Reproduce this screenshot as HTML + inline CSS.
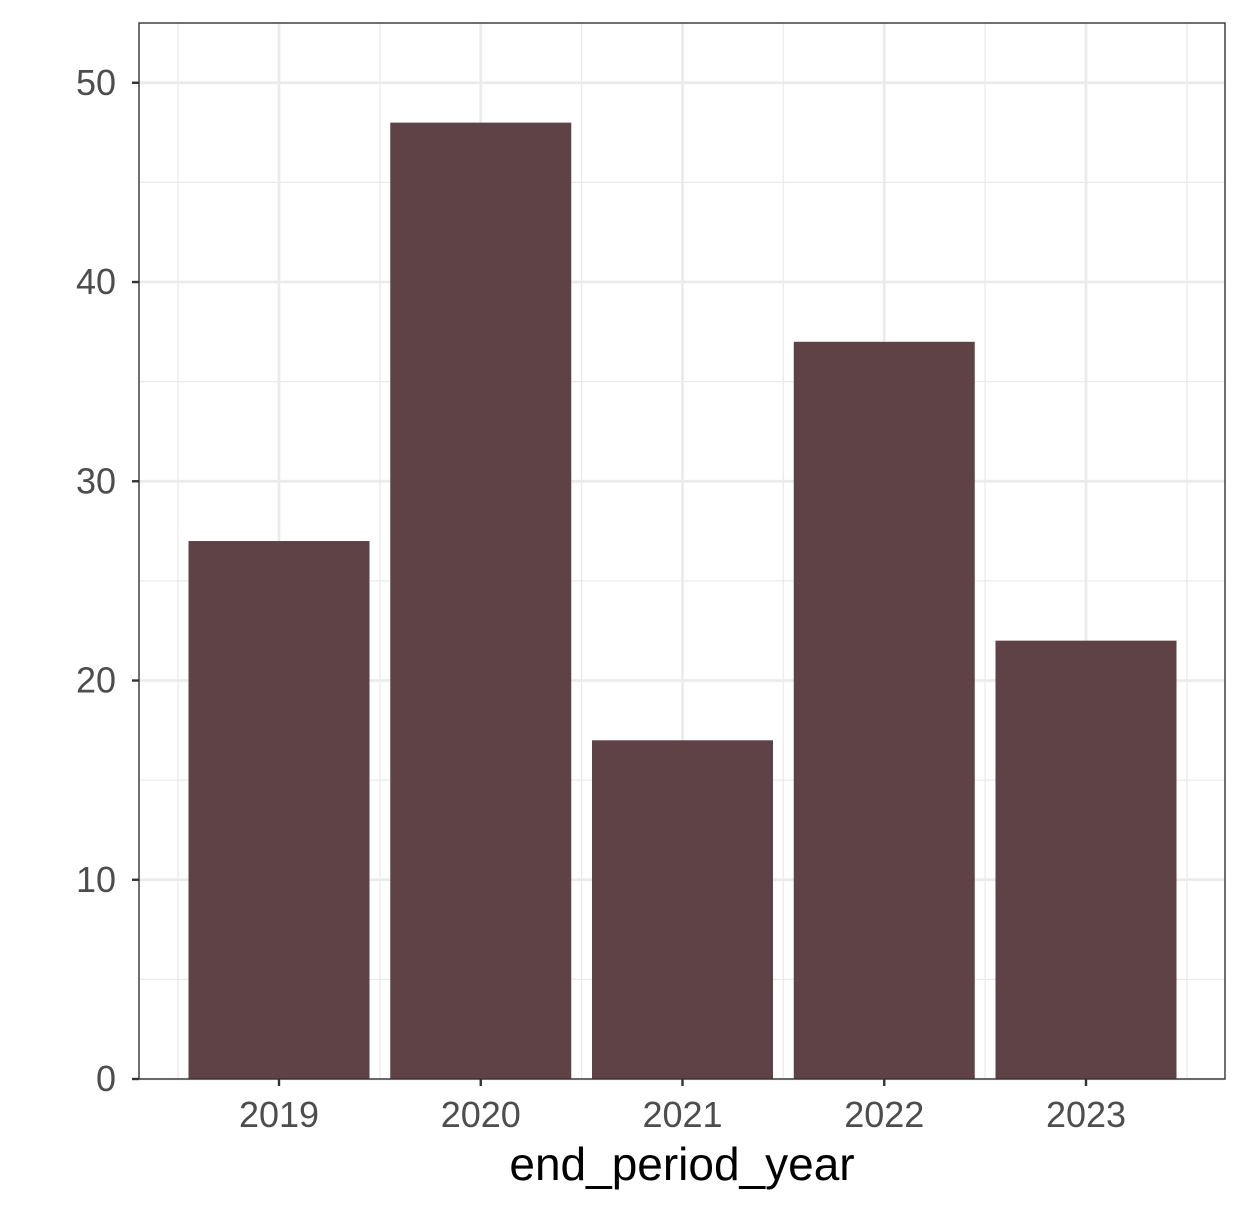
<!DOCTYPE html>
<html><head><meta charset="utf-8"><style>
body{margin:0;background:#fff;}
svg{display:block;font-family:"Liberation Sans",sans-serif;}
</style></head><body>
<svg id="chart" width="1249" height="1212"></svg>
<script>
const categories=["2019","2020","2021","2022","2023"];
const values=[27,48,17,37,22];
const yTicks=[0,10,20,30,40,50];
const yMinor=[5,15,25,35,45];
const svg=document.getElementById('chart');
const NS='http://www.w3.org/2000/svg';
const L=139,R=1225,T=23,B=1079,yMax=53;
const y=v=>B-(v/yMax)*(B-T);
const step=201.75, x0=279;
const x=i=>x0+i*step;
const bw=181;
function mk(tag,attrs,parent){const e=document.createElementNS(NS,tag);for(const k in attrs)e.setAttribute(k,attrs[k]);(parent||svg).appendChild(e);return e;}
const grid=mk('g',{});


yMinor.forEach(v=>mk('line',{x1:L,x2:R,y1:y(v),y2:y(v),stroke:'#ebebeb','stroke-width':1.3},grid));
categories.forEach((c,i)=>mk('line',{x1:x(i)-step/2,x2:x(i)-step/2,y1:T,y2:B,stroke:'#ebebeb','stroke-width':1.3},grid));
mk('line',{x1:x(categories.length-1)+step/2,x2:x(categories.length-1)+step/2,y1:T,y2:B,stroke:'#ebebeb','stroke-width':1.3},grid);
yTicks.forEach(v=>mk('line',{x1:L,x2:R,y1:y(v),y2:y(v),stroke:'#ebebeb','stroke-width':2.7},grid));
categories.forEach((c,i)=>mk('line',{x1:x(i),x2:x(i),y1:T,y2:B,stroke:'#ebebeb','stroke-width':2.7},grid));
values.forEach((v,i)=>{
 const r=mk('rect',{x:x(i)-bw/2,y:y(v),width:bw,height:B-y(v),fill:'#5E4245'});
 
 
});
const frame=mk('rect',{x:L,y:T,width:R-L,height:B-T,fill:'none',stroke:'#333','stroke-width':1.4});


yTicks.forEach(v=>{
 mk('line',{x1:L-7,x2:L,y1:y(v),y2:y(v),stroke:'#333','stroke-width':2.4});
 const t=mk('text',{x:L-23,y:y(v)+12,'text-anchor':'end','font-size':36,fill:'#4d4d4d'});
 t.textContent=v;
 
 
});
categories.forEach((c,i)=>{
 mk('line',{x1:x(i),x2:x(i),y1:B,y2:B+7,stroke:'#333','stroke-width':2.4});
 const t=mk('text',{x:x(i),y:B+48,'text-anchor':'middle','font-size':36,fill:'#4d4d4d'});
 t.textContent=c;
 
 
});
const xt=mk('text',{x:(L+R)/2,y:1180,'text-anchor':'middle','font-size':46,fill:'#000'});
xt.textContent='end_period_year';


</script>
</body></html>
